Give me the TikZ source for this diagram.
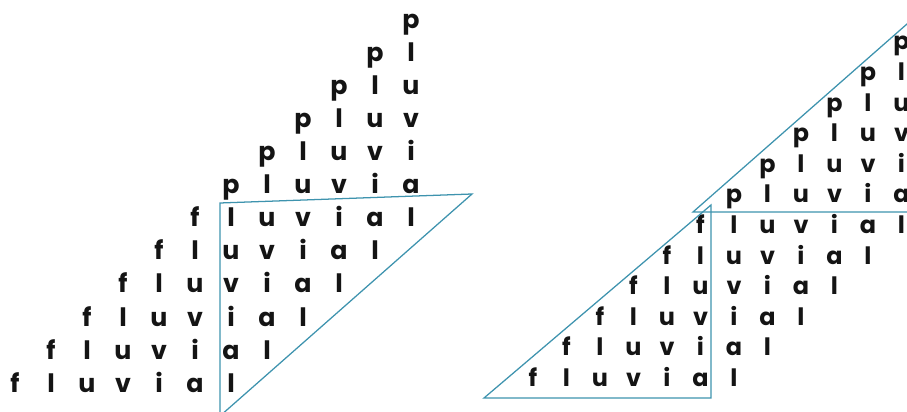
\documentclass[tikz,border=0pt]{standalone}
\usepackage{fontspec}
\setmainfont{Poppins}
\definecolor{frameTeal}{HTML}{3E93AE}
\definecolor{ink}{HTML}{141414}
\newcommand{\wordletter}[2]{\ifcase#1\relax\ifnum#2>5 p\else f\fi\or l\or u\or v\or i\or a\or l\fi}

\begin{document}
\begin{tikzpicture}[
  x=0.025cm, y=-0.025cm,
  letterL/.style={
    anchor=base,
    inner sep=0pt,
    text=ink,
    font=\fontsize{18}{18}\selectfont\bfseries
  },
  letterR/.style={
    letterL,
    font=\fontsize{17}{17}\selectfont\bfseries
  },
  frame/.style={
    draw=frameTeal,
    line width=0.9pt,
    line join=miter
  }
]
\useasboundingbox (0,0) rectangle (907,412);
\clip (0,0) rectangle (907,412);
\foreach \r in {0,...,11}
  \foreach \k in {0,...,6}{
    \pgfmathtruncatemacro{\c}{\r+\k}
    \ifnum\c<12
      \node[letterL] (L\r-\c) at (15+36*\c, 392-33*\r) {\wordletter{\k}{\r}};
      \node[letterR] (R\r-\c) at (533+33.5*\c, 386.5-30.6*\r) {\wordletter{\k}{\r}};
    \fi
  }
\draw[frame] (220,203) -- (472,194) -- (220,416) -- cycle;
\draw[frame] (484,398) -- (711,205) -- (711,398) -- cycle;
\draw[frame] (940,212) -- (693,212) -- (940,-5);
\end{tikzpicture}
\end{document}
